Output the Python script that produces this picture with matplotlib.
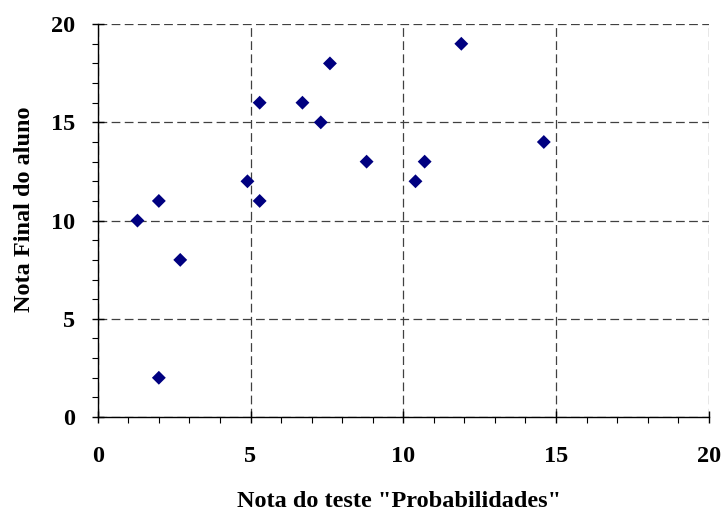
import numpy as np
import matplotlib
matplotlib.use("Agg")
import matplotlib.pyplot as plt
from matplotlib.ticker import MultipleLocator

# notas do teste e nota final
teste = [1.3, 2.0, 2.0, 2.7, 4.9, 5.3, 5.3, 6.7, 7.3, 7.6, 8.8, 10.4, 10.7, 11.9, 14.6]
final = [10, 11, 2, 8, 12, 11, 16, 16, 15, 18, 13, 12, 13, 19, 14]

x_ticks = [0, 5, 10, 15, 20]
y_ticks = [0, 5, 10, 15, 20]

plt.rcParams['font.family'] = ['Liberation Serif', 'DejaVu Serif']
plt.rcParams['font.weight'] = 'bold'

fig = plt.figure(figsize=(7.24, 5.13), dpi=100)
ax = fig.add_axes([0.135, 0.187, 0.844, 0.766])

ax.scatter(teste, final, marker='D', s=50, color='#000080', edgecolors='none', zorder=3)

ax.set_xlim(0, 20)
ax.set_ylim(0, 20)
ax.set_xticks(x_ticks)
ax.set_yticks(y_ticks)
ax.xaxis.set_minor_locator(MultipleLocator(1))
ax.yaxis.set_minor_locator(MultipleLocator(1))

# grelha tracejada, como no Excel
ax.grid(True, which='major', color='#404040', linestyle=(0, (7, 3.5)), linewidth=0.9)
ax.set_axisbelow(True)

for s in ['top', 'right']:
    ax.spines[s].set_visible(False)
for s in ['left', 'bottom']:
    ax.spines[s].set_linewidth(1.0)
    ax.spines[s].set_color('black')

ax.tick_params(which='major', direction='inout', length=9, width=1.0, labelsize=17.5)
ax.tick_params(axis='x', which='major', pad=16)
ax.tick_params(axis='y', which='major', pad=12)
ax.tick_params(which='minor', direction='out', length=4.5, width=0.8)

for lab in ax.get_xticklabels() + ax.get_yticklabels():
    lab.set_fontweight('bold')

ax.set_xlabel('Nota do teste "Probabilidades"', fontsize=17.5, fontweight='bold', va='center')
ax.set_ylabel('Nota Final do aluno', fontsize=17.5, fontweight='bold', va='center')
ax.xaxis.set_label_coords(0.493, -0.214)
ax.yaxis.set_label_coords(-0.12, 0.529)

fig.savefig('out.png', dpi=100)
